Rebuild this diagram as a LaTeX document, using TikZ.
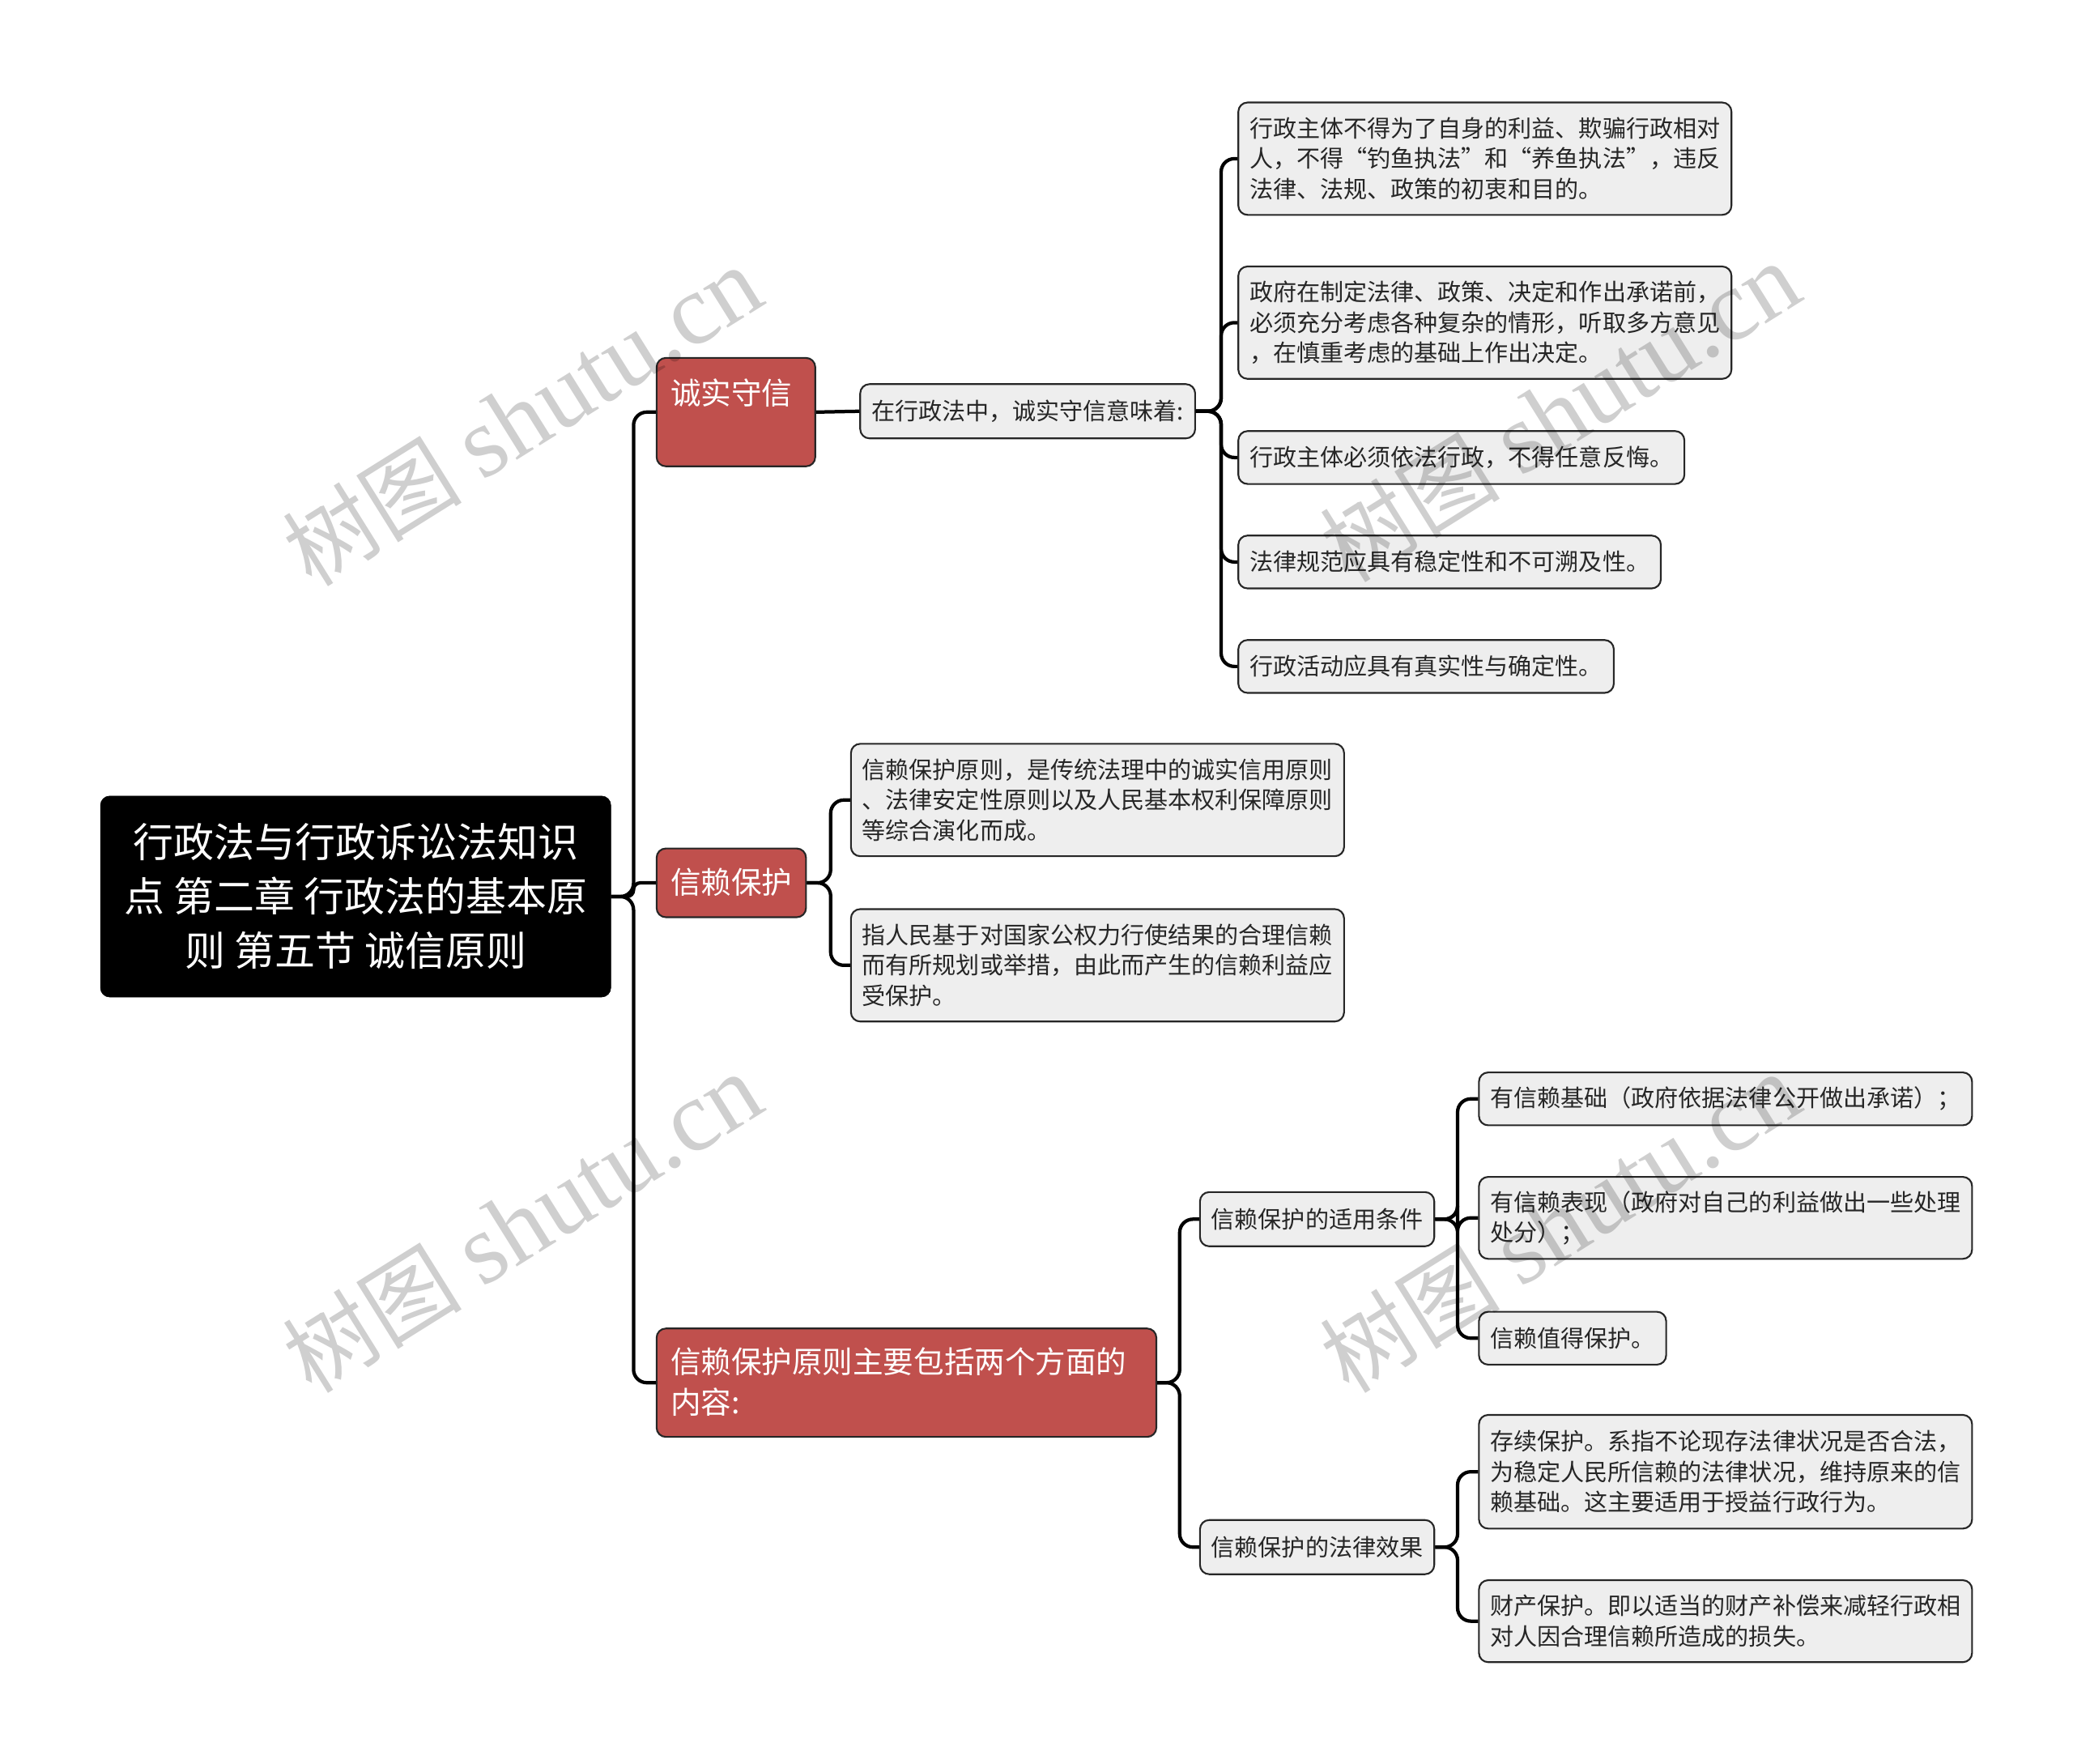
\documentclass[tikz,border=0pt]{standalone}
\usepackage{fontspec}
\newfontfamily\cjk{Noto Sans CJK SC}
\newfontfamily\wmserif{Liberation Serif}
\definecolor{redfill}{HTML}{C0504D}
\definecolor{grayfill}{HTML}{EEEEEE}
\definecolor{txt}{HTML}{262626}
\newcommand{\wmtext}{{\cjk\fontsize{68}{72}\selectfont 树图}\hspace{16pt}{\wmserif\fontsize{76}{80}\selectfont shutu.cn}}
\begin{document}
\begin{tikzpicture}[x=1pt,y=-1pt,
  rootbox/.style={fill=black, draw=black, rounded corners=7pt, text=white,
    font=\cjk\fontsize{30.6}{41}\selectfont, align=center,
    minimum width=386pt, minimum height=152pt, inner sep=0pt},
  redbox/.style={fill=redfill, draw=black!85, line width=1.3pt, rounded corners=7pt, inner sep=0pt, anchor=north west},
  redtext/.style={text=white, font=\cjk\fontsize{23}{31}\selectfont, align=left, anchor=west, inner sep=0pt},
  gbox/.style={fill=grayfill, draw=black!85, line width=1.3pt, rounded corners=7pt, text=txt,
    font=\cjk\fontsize{17.8}{23}\selectfont, align=left, anchor=west, inner xsep=8.5pt, inner ysep=0pt},
  conn/.style={line width=2.6pt, rounded corners=10pt, draw=black},
  wm/.style={text=black, opacity=0.19, rotate=32, inner sep=0pt}
]
\useasboundingbox (0,0) rectangle (1568,1334);

% root
\node[rootbox] (root) at (269,678) {行政法与行政诉讼法知识\\点 第二章 行政法的基本原\\则 第五节 诚信原则};

% level 1 (red)
\node[redbox, minimum width=120pt, minimum height=82pt] (r1) at (496,270) {};
\node[redtext] (r1t) at (507,297) {诚实守信};
\node[redbox, minimum width=113pt, minimum height=52pt] (r2) at (496,641) {};
\node[redtext] (r2t) at (507,667) {信赖保护};
\node[redbox, minimum width=378pt, minimum height=82pt] (r3) at (496,1004) {};
\node[redtext] (r3t) at (507,1045) {信赖保护原则主要包括两个方面的\\内容:};

% branch 1
\node[gbox, minimum height=41pt] (c0) at (650,311) {在行政法中，诚实守信意味着:};
\node[gbox, text width=356pt, minimum height=85pt] (c1) at (936,120) {行政主体不得为了自身的利益、欺骗行政相对\\人，不得“钓鱼执法”和“养鱼执法”，违反\\法律、法规、政策的初衷和目的。};
\node[gbox, text width=356pt, minimum height=85pt] (c2) at (936,244) {政府在制定法律、政策、决定和作出承诺前，\\必须充分考虑各种复杂的情形，听取多方意见\\，在慎重考虑的基础上作出决定。};
\node[gbox, minimum height=40pt] (c3) at (936,346) {行政主体必须依法行政，不得任意反悔。};
\node[gbox, minimum height=40pt] (c4) at (936,425) {法律规范应具有稳定性和不可溯及性。};
\node[gbox, minimum height=40pt] (c5) at (936,504) {行政活动应具有真实性与确定性。};

% branch 2
\node[gbox, text width=356pt, minimum height=85pt] (d1) at (643,605) {信赖保护原则，是传统法理中的诚实信用原则\\、法律安定性原则以及人民基本权利保障原则\\等综合演化而成。};
\node[gbox, text width=356pt, minimum height=85pt] (d2) at (643,730) {指人民基于对国家公权力行使结果的合理信赖\\而有所规划或举措，由此而产生的信赖利益应\\受保护。};

% branch 3
\node[gbox, minimum height=41pt] (e1) at (907,922) {信赖保护的适用条件};
\node[gbox, minimum height=41pt] (e2) at (907,1170) {信赖保护的法律效果};
\node[gbox, minimum height=40pt] (f1) at (1118,831) {有信赖基础（政府依据法律公开做出承诺）；};
\node[gbox, text width=356pt, minimum height=62pt] (f2) at (1118,921) {有信赖表现（政府对自己的利益做出一些处理\\处分）；};
\node[gbox, minimum height=40pt] (f3) at (1118,1012) {信赖值得保护。};
\node[gbox, text width=356pt, minimum height=86pt] (g1) at (1118,1113) {存续保护。系指不论现存法律状况是否合法，\\为稳定人民所信赖的法律状况，维持原来的信\\赖基础。这主要适用于授益行政行为。};
\node[gbox, text width=356pt, minimum height=62pt] (g2) at (1118,1226) {财产保护。即以适当的财产补偿来减轻行政相\\对人因合理信赖所造成的损失。};

% connectors
\draw[conn] (root.east) -- ++(17,0) |- (r1.west);
\draw[conn, rounded corners=5pt] (root.east) -- ++(17,0) |- (r2.west);
\draw[conn] (root.east) -- ++(17,0) |- (r3.west);
\draw[conn] (r1.east) -- (c0.west);
\foreach \t in {c1,c2,c3,c4,c5} \draw[conn] (c0.east) -- ++(19,0) |- (\t.west);
\foreach \t in {d1,d2} \draw[conn] (r2.east) -- ++(18,0) |- (\t.west);
\foreach \t in {e1,e2} \draw[conn] (r3.east) -- ++(17,0) |- (\t.west);
\foreach \t in {f1,f2,f3} \draw[conn] (e1.east) -- ++(17,0) |- (\t.west);
\foreach \t in {g1,g2} \draw[conn] (e2.east) -- ++(17,0) |- (\t.west);

% watermarks
\node[wm] (w1) at (395,315) {\wmtext};
\node[wm] (w2) at (1180,312) {\wmtext};
\node[wm] (w3) at (395,925) {\wmtext};
\node[wm] (w4) at (1180,925) {\wmtext};
\end{tikzpicture}
\end{document}
